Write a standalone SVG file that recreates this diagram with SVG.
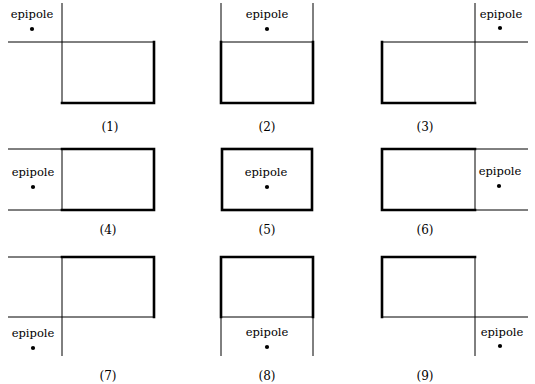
<svg xmlns="http://www.w3.org/2000/svg" width="535" height="384" viewBox="0 0 535 384">
  <style>
    .thin { stroke: #000; stroke-width: 1; fill: none; }
    .thick { stroke: #000; stroke-width: 2.6; fill: none; stroke-linecap: square; }
    .ep { font-family: "DejaVu Serif", "Liberation Serif", serif; font-size: 11.5px; text-anchor: middle; fill: #000; }
    .num { font-family: "DejaVu Serif", "Liberation Serif", serif; font-size: 12px; text-anchor: middle; fill: #000; }
    circle { fill: #000; }
  </style>
  <rect width="535" height="384" fill="#fff"/>

  <!-- Case 1: epipole above-left -->
  <g id="case1">
    <path class="thin" d="M62 3 V103 M8 42 H154"/>
    <path class="thick" d="M154 42 V103 H62"/>
    <text class="ep" x="32" y="18">epipole</text>
    <circle cx="32" cy="29" r="2.1"/>
    <text class="num" x="110" y="131">(1)</text>
  </g>

  <!-- Case 2: epipole above -->
  <g id="case2">
    <path class="thin" d="M221 3 V42 M313 3 V42 M221 42 H313"/>
    <path class="thick" d="M221 42 V103 H313 V42"/>
    <text class="ep" x="267" y="18">epipole</text>
    <circle cx="267" cy="29" r="2.1"/>
    <text class="num" x="267" y="131">(2)</text>
  </g>

  <!-- Case 3: epipole above-right -->
  <g id="case3">
    <path class="thin" d="M475 3 V103 M382 42 H528"/>
    <path class="thick" d="M382 42 V103 H475"/>
    <text class="ep" x="501" y="18">epipole</text>
    <circle cx="500" cy="28" r="2.1"/>
    <text class="num" x="425" y="131">(3)</text>
  </g>

  <!-- Case 4: epipole left -->
  <g id="case4">
    <path class="thin" d="M8 149 H62 M8 210 H62 M62 149 V210"/>
    <path class="thick" d="M62 149 H154 V210 H62"/>
    <text class="ep" x="33" y="176">epipole</text>
    <circle cx="33" cy="187" r="2.1"/>
    <text class="num" x="108" y="234">(4)</text>
  </g>

  <!-- Case 5: epipole inside -->
  <g id="case5">
    <rect class="thick" x="222" y="149" width="90" height="61"/>
    <text class="ep" x="266" y="176">epipole</text>
    <circle cx="267" cy="187" r="2.1"/>
    <text class="num" x="267" y="234">(5)</text>
  </g>

  <!-- Case 6: epipole right -->
  <g id="case6">
    <path class="thin" d="M475 149 H528 M475 210 H528 M475 149 V210"/>
    <path class="thick" d="M475 149 H382 V210 H475"/>
    <text class="ep" x="500" y="175">epipole</text>
    <circle cx="499" cy="186" r="2.1"/>
    <text class="num" x="425" y="234">(6)</text>
  </g>

  <!-- Case 7: epipole below-left -->
  <g id="case7">
    <path class="thin" d="M8 257 H62 M8 317 H154 M62 257 V356"/>
    <path class="thick" d="M62 257 H154 V317"/>
    <text class="ep" x="33" y="337">epipole</text>
    <circle cx="33" cy="348" r="2.1"/>
    <text class="num" x="108" y="380">(7)</text>
  </g>

  <!-- Case 8: epipole below -->
  <g id="case8">
    <path class="thin" d="M221 317 H313 M221 317 V356 M313 317 V356"/>
    <path class="thick" d="M221 317 V257 H313 V317"/>
    <text class="ep" x="267" y="336">epipole</text>
    <circle cx="267" cy="347" r="2.1"/>
    <text class="num" x="267" y="380">(8)</text>
  </g>

  <!-- Case 9: epipole below-right -->
  <g id="case9">
    <path class="thin" d="M382 317 H528 M475 257 V356"/>
    <path class="thick" d="M382 317 V257 H475"/>
    <text class="ep" x="502" y="336">epipole</text>
    <circle cx="500" cy="346" r="2.1"/>
    <text class="num" x="425" y="380">(9)</text>
  </g>
</svg>
